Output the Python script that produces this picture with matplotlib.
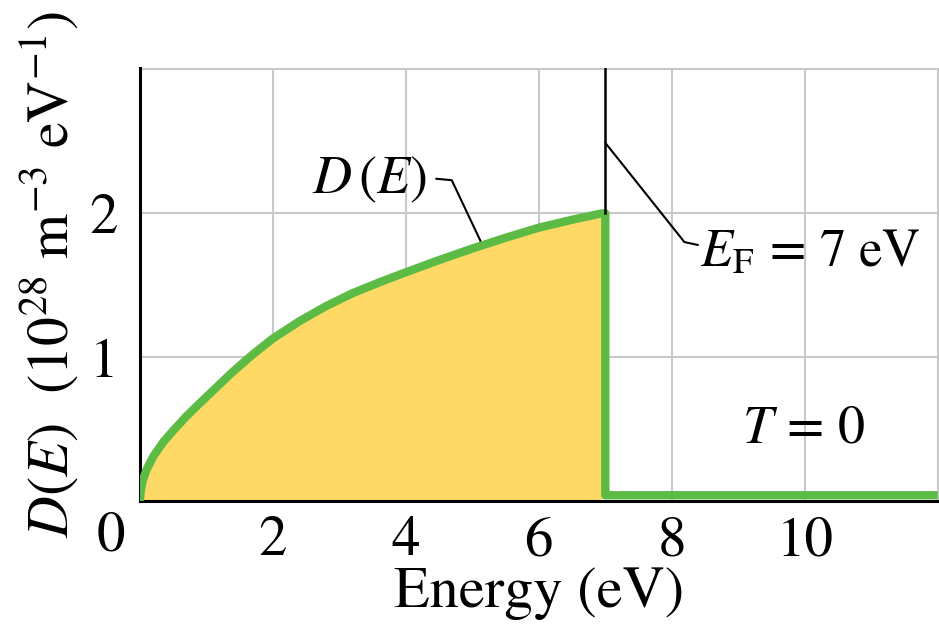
import matplotlib
matplotlib.use("Agg")
import matplotlib.pyplot as plt

plt.rcParams['font.family'] = ['STIXGeneral', 'DejaVu Serif']
plt.rcParams['mathtext.fontset'] = 'stix'

# Data
energy = [0, 0.01, 0.04, 0.1, 0.2, 0.35, 0.5, 0.7, 0.9, 1.15, 1.4, 1.7, 2.0, 2.4,
          2.8, 3.2, 3.6, 4.0, 4.5, 5.0, 5.5, 6.0, 6.5, 6.95]
density = [0, 0.07, 0.14, 0.22, 0.31, 0.41, 0.49, 0.59, 0.68, 0.79, 0.90, 1.02, 1.13, 1.25,
           1.355, 1.445, 1.52, 1.59, 1.675, 1.755, 1.83, 1.90, 1.955, 2.0]
fermi_energy = 7.0
tail_energy = [7.0, 12.0]
tail_density = [0.04, 0.04]
xticks = [2, 4, 6, 8, 10]
yticks = [1, 2]

GREEN = '#5cbb45'
YELLOW = '#fed965'
GRID = '#c9c9c9'

fig = plt.figure(figsize=(9.39, 6.25), dpi=100)
ax = fig.add_axes([140/939, 124/625, 1 - 140/939, (501-68)/625])
ax.set_xlim(0, 12.02)
ax.set_ylim(0, 3.01)

# grid
for gx in [2, 4, 6, 8, 10, 12]:
    ax.axvline(gx, color=GRID, lw=1.5, zorder=0)
for gy in [1, 2, 3]:
    ax.axhline(gy, color=GRID, lw=1.5, zorder=0)

ax.fill_between(energy, density, 0, color=YELLOW, lw=0, zorder=1)
ax.plot(energy + [fermi_energy, fermi_energy] + tail_energy[1:],
        density + [density[-1], tail_density[0]] + tail_density[1:],
        color=GREEN, lw=6, solid_joinstyle='round', solid_capstyle='butt', zorder=3)

# Fermi energy marker
ax.plot([fermi_energy, fermi_energy], [density[-1], 3.01], color='black', lw=1.8, zorder=4)
ax.plot([fermi_energy, 8.19, 8.39], [2.49, 1.80, 1.78], color='black', lw=1.5, zorder=4)
ax.text(8.42, 1.625, r'$E_{\mathrm{F}}\,=\,7\ \mathrm{eV}$', fontsize=38, va='baseline', ha='left')

# D(E) label
ax.plot([4.46, 4.69, 5.12], [2.24, 2.23, 1.81], color='black', lw=1.5, zorder=4)
ax.text(4.31, 2.14, r'$D\,(E)$', fontsize=39, va='baseline', ha='right')

ax.text(9.06, 0.41, r'$T\,=\,0$', fontsize=39, va='baseline', ha='left')

# axes styling
for s in ['top', 'right']:
    ax.spines[s].set_visible(False)
ax.spines['left'].set_linewidth(2.2)
ax.spines['bottom'].set_linewidth(2.2)
ax.set_xticks(xticks)
ax.set_yticks(yticks)
ax.tick_params(length=0, labelsize=41)
ax.tick_params(axis='x', pad=11)
ax.tick_params(axis='y', pad=16)
ax.text(-0.44, -0.25, '0', fontsize=41, ha='center', va='center')

ax.set_xlabel('Energy (eV)', fontsize=42, labelpad=0)
fig.text(50/939, 1 - 274/625,
         r'$D(E)$  (10$^{28}$ m$^{-3}$ eV$^{-1}$)', rotation=90,
         fontsize=41.5, ha='center', va='center')

fig.savefig('out.png', dpi=100)
